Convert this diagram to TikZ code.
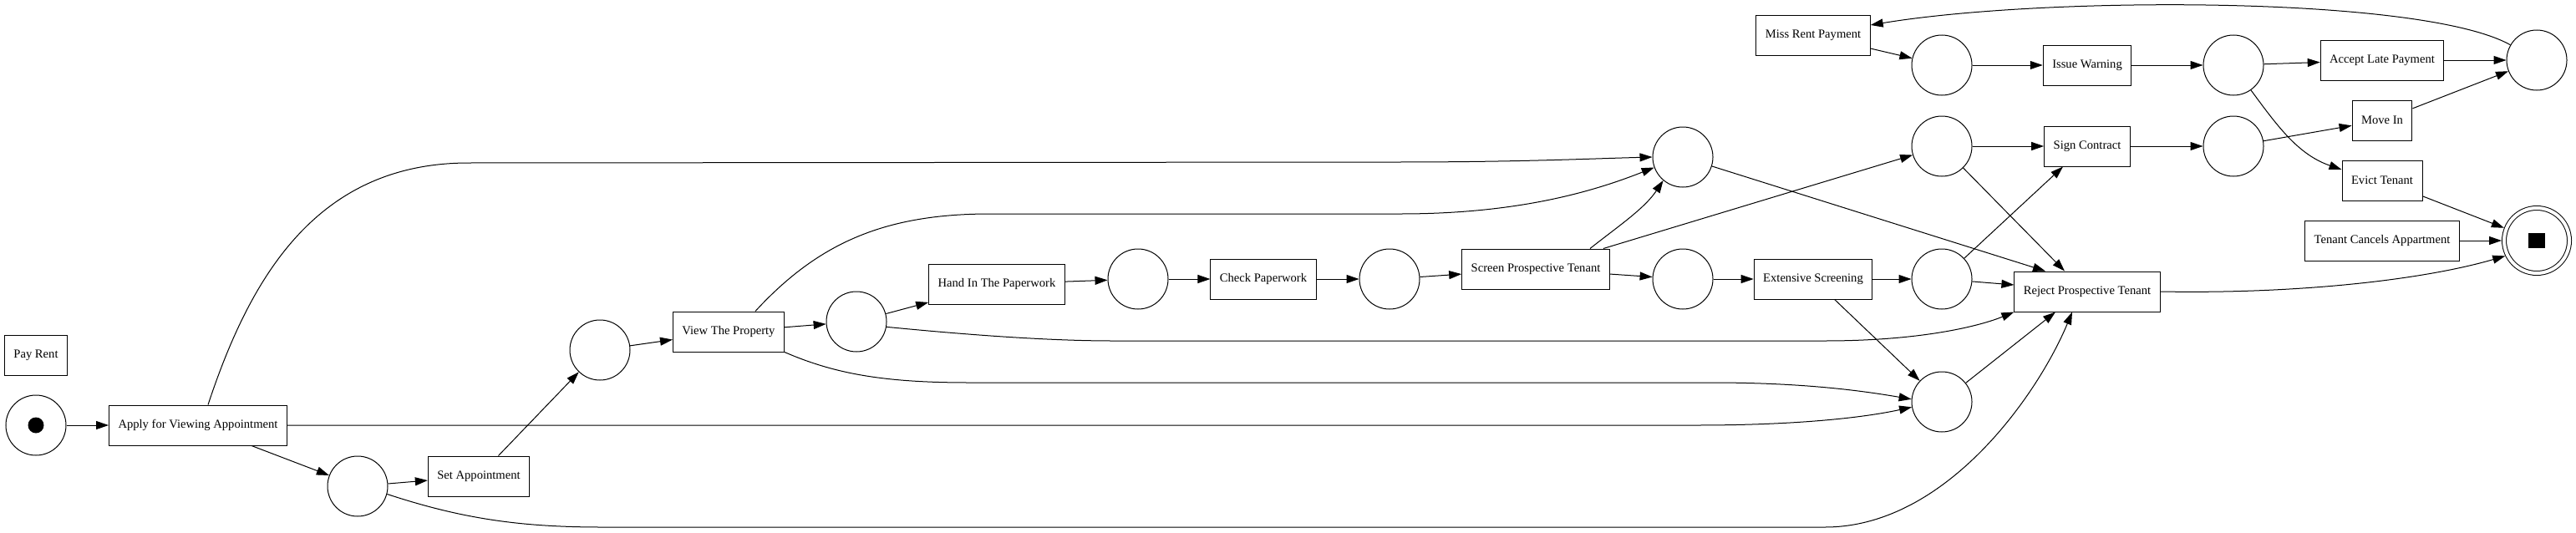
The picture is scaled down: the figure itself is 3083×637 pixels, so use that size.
\documentclass[tikz,border=0pt]{standalone}
\usepackage{fontspec}
\setmainfont{Liberation Serif}
\usetikzlibrary{arrows.meta}

\begin{document}
\begin{tikzpicture}[x=1pt, y=-1pt, line width=1pt, >={Triangle[length=15pt, width=10pt]},
    trans/.style={draw, rectangle, minimum height=48pt, inner xsep=11pt, font=\fontsize{14.6pt}{17pt}\selectfont},
    place/.style={draw, circle, minimum size=72pt, inner sep=0pt},
    final/.style={draw, circle, double, double distance=4pt, minimum size=78pt, inner sep=0pt, outer sep=3pt},
    token/.style={circle, fill, minimum size=19pt, inner sep=0pt},
    endmark/.style={rectangle, fill, minimum width=20pt, minimum height=18pt, inner sep=0pt}]
    \useasboundingbox (0,0) rectangle (3083,637);
    \node[trans] (payrent) at (43,425) {Pay Rent};
    \node[place] (start) at (43,509) {};
    \node[token] (startdot) at (start) {};
    \node[trans] (apply) at (237,509) {Apply for Viewing Appointment};
    \node[place] (p1) at (428,582) {};
    \node[trans] (setapp) at (573,570) {Set Appointment};
    \node[place] (p2) at (718,419) {};
    \node[trans] (view) at (872,397) {View The Property};
    \node[place] (p3) at (1025,385) {};
    \node[trans] (handin) at (1193,340) {Hand In The Paperwork};
    \node[place] (p4) at (1362,334) {};
    \node[trans] (check) at (1512,334) {Check Paperwork};
    \node[place] (p5) at (1663,334) {};
    \node[trans] (screen) at (1838,322) {Screen Prospective Tenant};
    \node[place] (p6) at (2014,188) {};
    \node[place] (p7) at (2014,334) {};
    \node[trans] (extensive) at (2170,334) {Extensive Screening};
    \node[place] (p8) at (2324,175) {};
    \node[place] (p9) at (2324,334) {};
    \node[place] (p10) at (2324,481) {};
    \node[trans] (sign) at (2498,175) {Sign Contract};
    \node[trans] (reject) at (2498,349) {Reject Prospective Tenant};
    \node[place] (p11) at (2673,175) {};
    \node[trans] (missrent) at (2170,42) {Miss Rent Payment};
    \node[place] (p12) at (2324,78) {};
    \node[trans] (warning) at (2498,78) {Issue Warning};
    \node[place] (p13) at (2673,78) {};
    \node[trans] (acceptlate) at (2851,72) {Accept Late Payment};
    \node[trans] (movein) at (2851,144) {Move In};
    \node[trans] (evict) at (2851,216) {Evict Tenant};
    \node[trans] (cancels) at (2851,288) {Tenant Cancels Appartment};
    \node[place] (p14) at (3036,72) {};
    \node[final] (end) at (3036,288) {};
    \node[endmark] (enddot) at (end) {};
    \draw[->] (start) -- (apply);
    \draw[->] (apply) -- (p1);
    \draw[->] (p1) -- (setapp);
    \draw[->] (setapp) -- (p2);
    \draw[->] (p2) -- (view);
    \draw[->] (view) -- (p3);
    \draw[->] (p3) -- (handin);
    \draw[->] (handin) -- (p4);
    \draw[->] (p4) -- (check);
    \draw[->] (check) -- (p5);
    \draw[->] (p5) -- (screen);
    \draw[->] (screen) -- (p7);
    \draw[->] (screen) -- (p8);
    \draw[->] (p7) -- (extensive);
    \draw[->] (extensive) -- (p9);
    \draw[->] (extensive) -- (p10);
    \draw[->] (p8) -- (sign);
    \draw[->] (p9) -- ([xshift=-29pt]sign.south);
    \draw[->] (p8) -- ([xshift=-27pt]reject.north);
    \draw[->] (p6) -- ([xshift=-50pt]reject.north);
    \draw[->] (p9) -- ([yshift=8pt]reject.west);
    \draw[->] (p10) -- ([xshift=-38pt]reject.south);
    \draw[->] (sign) -- (p11);
    \draw[->] (p11) -- (movein);
    \draw[->] (movein) -- (p14);
    \draw[->] (missrent) -- (p12);
    \draw[->] (p12) -- (warning);
    \draw[->] (warning) -- (p13);
    \draw[->] (p13) -- (acceptlate);
    \draw[->] (acceptlate) -- (p14);
    \draw[->] (evict) -- (end);
    \draw[->] (cancels) -- (end);
    \draw[->] ([xshift=12pt]apply.north) .. controls (300,330) and (380,195) .. (561,195) -- (1670,194) .. controls (1820,194) and (1900,190) .. (p6.west);
    \draw[->] ([xshift=32pt]view.north) .. controls (980,290) and (1060,256) .. (1185,256) -- (1676,256) .. controls (1820,256) and (1910,228) .. (p6.200);
    \draw[->] ([xshift=65pt]screen.north) .. controls (1935,272) and (1968,250) .. (p6.230);
    \draw[->] (view.south east) .. controls (1000,448) and (1060,458) .. (1160,458) -- (2048,458) .. controls (2160,458) and (2230,468) .. (p10.175);
    \draw[->] (apply.east) -- (2030,509) .. controls (2150,509) and (2230,500) .. (p10.190);
    \draw[->] (p1.-15) .. controls (550,620) and (620,631) .. (720,631) -- (2184,631) .. controls (2330,631) and (2440,470) .. ([xshift=-18pt]reject.south);
    \draw[->] (p3.-10) .. controls (1150,400) and (1250,408) .. (1332,408) -- (2184,408) .. controls (2300,408) and (2370,390) .. (reject.south west);
    \draw[->] (reject.east) .. controls (2750,352) and (2900,335) .. (end.206);
    \draw[->] (p14.150) .. controls (2900,-5) and (2450,-5) .. ([yshift=12pt]missrent.east);
    \draw[->] (p13.-55) .. controls (2725,150) and (2750,185) .. ([yshift=13pt]evict.west);
\end{tikzpicture}
\end{document}
